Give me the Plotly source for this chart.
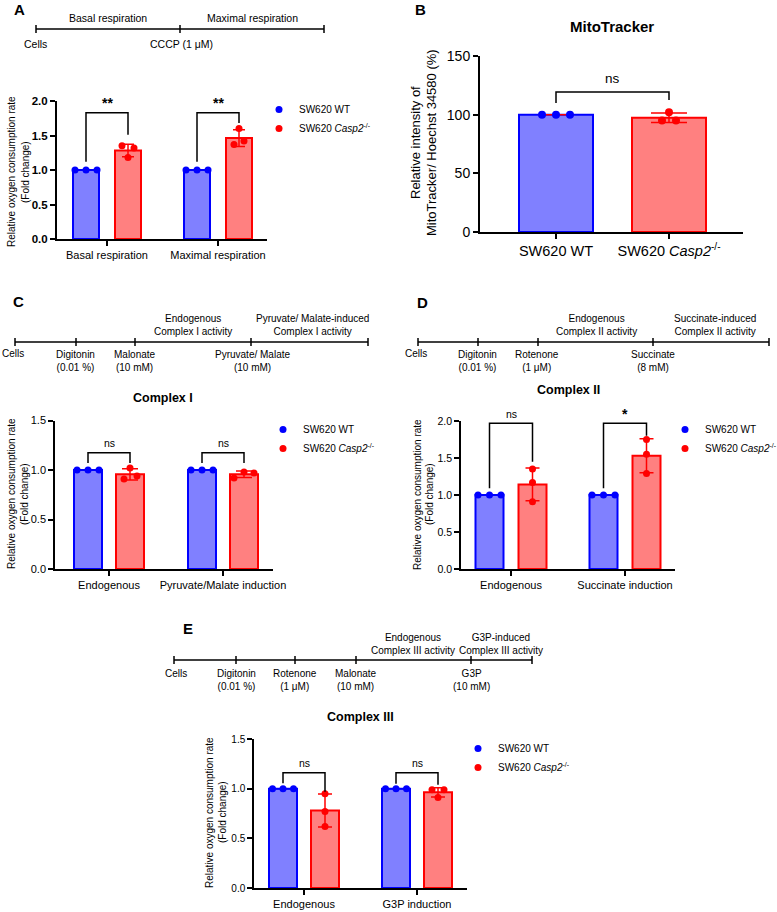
import numpy as np
import plotly.graph_objects as go

# ======================= DATA =======================
WT_NAME = "SW620 WT"
KO_NAME = "SW620 <i>Casp2</i><sup>-/-</sup>"

# Panel A  (fold change)
cats_A = ["Basal respiration", "Maximal respiration"]
wt_A = [[1.00, 1.00, 1.00], [1.00, 1.00, 1.00]]
ko_A = [[1.35, 1.18, 1.32], [1.37, 1.60, 1.42]]
sig_A = ["**", "**"]
yticks_A = [0.0, 0.5, 1.0, 1.5, 2.0]

# Panel B  (%)
cats_B = ["SW620 WT", "SW620 <i>Casp2</i><sup>-/-</sup>"]
vals_B = [[100, 100, 100], [95, 102, 95]]
sig_B = ["ns"]
yticks_B = [0, 50, 100, 150]

# Panel C
cats_C = ["Endogenous", "Pyruvate/Malate induction"]
wt_C = [[1.00, 1.00, 1.00], [1.00, 1.00, 1.00]]
ko_C = [[0.91, 1.02, 0.94], [0.92, 0.98, 0.97]]
sig_C = ["ns", "ns"]
yticks_C = [0.0, 0.5, 1.0, 1.5]

# Panel D
cats_D = ["Endogenous", "Succinate induction"]
wt_D = [[1.00, 1.00, 1.00], [1.00, 1.00, 1.00]]
ko_D = [[1.35, 1.17, 0.91], [1.75, 1.55, 1.29]]
sig_D = ["ns", "*"]
yticks_D = [0.0, 0.5, 1.0, 1.5, 2.0]

# Panel E
cats_E = ["Endogenous", "G3P induction"]
wt_E = [[1.00, 1.00, 1.00], [1.00, 1.00, 1.00]]
ko_E = [[0.95, 0.77, 0.62], [0.99, 0.91, 0.99]]
sig_E = ["ns", "ns"]
yticks_E = [0.0, 0.5, 1.0, 1.5]

# Timeline texts
tl_A_above = ["Basal respiration", "Maximal respiration"]
tl_A_below = ["Cells", "CCCP (1 μM)"]
tl_C_above = ["Endogenous<br>Complex I activity", "Pyruvate/ Malate-induced<br>Complex I activity"]
tl_C_below = ["Cells", "Digitonin<br>(0.01 %)", "Malonate<br>(10 mM)", "Pyruvate/ Malate<br>(10 mM)"]
tl_D_above = ["Endogenous<br>Complex II activity", "Succinate-induced<br>Complex II activity"]
tl_D_below = ["Cells", "Digitonin<br>(0.01 %)", "Rotenone<br>(1 μM)", "Succinate<br>(8 mM)"]
tl_E_above = ["Endogenous<br>Complex III activity", "G3P-induced<br>Complex III activity"]
tl_E_below = ["Cells", "Digitonin<br>(0.01 %)", "Rotenone<br>(1 μM)", "Malonate<br>(10 mM)", "G3P<br>(10 mM)"]

titles = {"B": "MitoTracker", "C": "Complex I", "D": "Complex II", "E": "Complex III"}
ytitle_ocr = ["Relative oxygen consumption rate", "(Fold change)"]
ytitle_B = ["Relative intensity of", "MitoTracker/ Hoechst 34580 (%)"]

# ======================= STYLE / LAYOUT =======================
W, H = 777, 912
FONT = "Liberation Sans, Arial, Helvetica, sans-serif"
BLUE, RED = "#0000FF", "#FF0000"
BLUE_FILL, RED_FILL = "#8080FF", "#FF8080"


def px(x):
    return x / W


def py(y):
    return 1 - y / H


fig = go.Figure()
annotations = []
shapes = []
layout_axes = {}


def ax_names(i):
    return ("x" if i == 1 else f"x{i}"), ("y" if i == 1 else f"y{i}")


def add_axes(i, g, cats, yticks, tickfont_y, tickfont_x, lw):
    xa, ya = ax_names(i)
    s = g["c"][1] - g["c"][0]
    x_rng = [(g["x0"] - g["c"][0]) / s, 1 + (g["x1"] - g["c"][1]) / s]
    common = dict(showline=True, linecolor="black", linewidth=lw, ticks="outside",
                  ticklen=5, tickwidth=lw, tickcolor="black", showgrid=False,
                  zeroline=False, fixedrange=True, automargin=False)
    layout_axes["xaxis" if i == 1 else f"xaxis{i}"] = dict(
        domain=[px(g["x0"]), px(g["x1"])], range=x_rng, anchor=ya,
        tickvals=[0, 1], ticktext=cats, tickfont=tickfont_x, **common)
    layout_axes["yaxis" if i == 1 else f"yaxis{i}"] = dict(
        domain=[py(g["ybot"]), py(g["ytop"])], range=[0, g["ymax"]], anchor=xa,
        tickvals=yticks, tickformat=g["fmt"], tickfont=tickfont_y, **common)
    return xa, ya, s


def bracket(xa, ya, ymax, xl, xr, top, yl, yr, yt, sig, size):
    shapes.append(dict(type="path", xref=xa, yref=ya,
                       path=f"M {xl},{yl} L {xl},{top} L {xr},{top} L {xr},{yr}",
                       line=dict(color="black", width=1.5)))
    bold = sig.startswith("*")
    annotations.append(dict(x=(xl + xr) / 2, y=yt / ymax, xref=xa, yref=f"{ya} domain",
                            showarrow=False, text=f"<b>{sig}</b>" if bold else sig,
                            font=dict(size=14 if bold else size),
                            xanchor="center", yanchor="middle"))


def grouped_panel(i, g, cats, wt, ko, yticks, legend_name, tickfont_y, lw):
    xa, ya, s = add_axes(i, g, cats, yticks, tickfont_y, dict(size=11), lw)
    for sign, vals, fill, edge, name, jits in [
            (-1, wt, BLUE_FILL, BLUE, WT_NAME, g["jit_wt"]),
            (1, ko, RED_FILL, RED, KO_NAME, g["jit_ko"])]:
        means = [float(np.mean(v)) for v in vals]
        sds = [float(np.std(v, ddof=1)) for v in vals]
        fig.add_trace(go.Bar(
            x=[0, 1], y=means, xaxis=xa, yaxis=ya,
            width=g["bw"] / s, offset=sign * g["off"] / s - g["bw"] / (2 * s),
            marker=dict(color=fill, line=dict(color=edge, width=2)),
            error_y=dict(type="data", array=sds, visible=True, color=edge,
                         thickness=1.5, width=g["cap"]),
            showlegend=False, hoverinfo="skip"))
        xs, ys = [], []
        for c in range(2):
            for k, v in enumerate(vals[c]):
                xs.append(c + sign * g["off"] / s + jits[c][k] / s)
                ys.append(v)
        fig.add_trace(go.Scatter(
            x=xs, y=ys, xaxis=xa, yaxis=ya, mode="markers", name=name,
            marker=dict(color=edge, size=7), legend=legend_name,
            showlegend=True, cliponaxis=False))
    for c in range(2):
        top, yl, yr, yt = g["br"][c]
        bracket(xa, ya, g["ymax"], c - g["off"] / s, c + g["off"] / s, top, yl, yr, yt,
                g["sig"][c], 10.5)


def ann(x, y, text, size, **kw):
    d = dict(x=px(x), y=py(y), xref="paper", yref="paper", text=text, showarrow=False,
             font=dict(size=size, color="black", family=FONT), xanchor="center",
             yanchor="middle")
    d.update(kw)
    annotations.append(d)


def timeline(x_start, x_end, ticks, y, above, above_pos, below, below_pos, size=10):
    shapes.append(dict(type="line", xref="paper", yref="paper", x0=px(x_start), x1=px(x_end),
                       y0=py(y), y1=py(y), line=dict(color="black", width=1.5)))
    for t in ticks:
        shapes.append(dict(type="line", xref="paper", yref="paper", x0=px(t), x1=px(t),
                           y0=py(y - 4), y1=py(y + 4), line=dict(color="black", width=1.5)))
    for txt, (xc, yc) in zip(above, above_pos):
        ann(xc, yc, txt, size)
    for txt, (xc, yc) in zip(below, below_pos):
        ann(xc, yc, txt, size)


def ytitle(lines, xs, yc, size):
    for t, x in zip(lines, xs):
        ann(x, yc, t, size, textangle=-90)


# ---------------- Panel A ----------------
gA = dict(x0=57, x1=267, c=(107, 218), ybot=239, ytop=101, ymax=2.0, fmt=".1f",
          bw=26, off=21, cap=6, jit_wt=[[-11, 0, 11]] * 2, jit_ko=[[-6, 0, 6], [-5, 0, 5]],
          br=[(1.83, 1.12, 1.51, 1.97), (1.83, 1.12, 1.68, 1.97)], sig=sig_A)
grouped_panel(1, gA, cats_A, wt_A, ko_A, yticks_A, "legend",
              dict(size=11.5, weight="bold"), 2)
ann(19, 10, "<b>A</b>", 15)
timeline(36, 324, [36, 180, 324], 29, tl_A_above, [(108, 18), (252, 18)],
         tl_A_below, [(35, 44), (181, 44)], size=10.5)
ytitle(ytitle_ocr, [11, 25], 172, 10)

# ---------------- Panel B ----------------
gB = dict(x0=480, x1=743, c=(556, 669), ybot=232, ytop=56, ymax=150, fmt="d")
xaB, yaB, sB = add_axes(2, gB, cats_B, yticks_B, dict(size=14), dict(size=14.5), 2)
meansB = [float(np.mean(v)) for v in vals_B]
sdsB = [float(np.std(v, ddof=1)) for v in vals_B]
fig.add_trace(go.Bar(x=[0, 1], y=meansB, xaxis=xaB, yaxis=yaB, width=74 / sB,
                     marker=dict(color=[BLUE_FILL, RED_FILL], line=dict(color=[BLUE, RED], width=2)),
                     error_y=dict(type="data", array=sdsB, visible=True, color=RED,
                                  thickness=1.5, width=18),
                     showlegend=False, hoverinfo="skip"))
jitB = [[-14, 0, 14], [-7, 0, 7]]
for c, (vals, col) in enumerate(zip(vals_B, [BLUE, RED])):
    fig.add_trace(go.Scatter(x=[c + j / sB for j in jitB[c]], y=vals, xaxis=xaB, yaxis=yaB,
                             mode="markers", marker=dict(color=col, size=8),
                             showlegend=False, cliponaxis=False))
bracket(xaB, yaB, 150, 0, 1, 119.3, 110, 112.5, 130.5, sig_B[0], 13.5)
ann(420, 10, "<b>B</b>", 15)
ann(612, 26, f"<b>{titles['B']}</b>", 15)
ytitle(ytitle_B, [415, 431], 143, 13)

# ---------------- Panel C ----------------
gC = dict(x0=55, x1=273, c=(109, 223), ybot=569, ytop=420.5, ymax=1.5, fmt=".1f",
          bw=28, off=21, cap=8, jit_wt=[[-11, 0, 11]] * 2, jit_ko=[[-6, 0, 7], [-10, 0, 10]],
          br=[(1.175, 1.07, 1.07, 1.27), (1.175, 1.07, 1.07, 1.27)], sig=sig_C)
grouped_panel(3, gC, cats_C, wt_C, ko_C, yticks_C, "legend2", dict(size=11), 1.5)
ann(18, 301, "<b>C</b>", 15)
timeline(15, 368, [15, 76, 135, 251, 368], 342, tl_C_above, [(193, 325), (312, 325)],
         tl_C_below, [(13, 354), (75, 361), (135, 361), (252, 361)])
ann(163, 398, f"<b>{titles['C']}</b>", 12.5)
ytitle(ytitle_ocr, [12, 25], 494, 10)

# ---------------- Panel D ----------------
gD = dict(x0=461, x1=675, c=(511, 625), ybot=569, ytop=421, ymax=2.0, fmt=".1f",
          bw=28, off=21.5, cap=7, jit_wt=[[-11.5, 0, 11.5]] * 2, jit_ko=[[0, 0, 0], [0, 0, 0]],
          br=[(1.97, 1.09, 1.45, 2.09), (1.97, 1.09, 1.80, 2.09)], sig=sig_D)
grouped_panel(4, gD, cats_D, wt_D, ko_D, yticks_D, "legend3", dict(size=10.5), 1.5)
ann(422, 302, "<b>D</b>", 15)
timeline(418, 769, [418, 478, 538, 653, 769], 342, tl_D_above, [(596, 325), (715, 325)],
         tl_D_below, [(416, 354), (477, 361), (537, 361), (653, 361)])
ann(568, 390, f"<b>{titles['D']}</b>", 12.5)
ytitle(ytitle_ocr, [418, 430], 494, 10)

# ---------------- Panel E ----------------
gE = dict(x0=254, x1=467, c=(304, 417), ybot=888, ytop=739, ymax=1.5, fmt=".1f",
          bw=28, off=21, cap=7, jit_wt=[[-10.5, 0, 10.5]] * 2, jit_ko=[[0, 0, 0], [-6, 0, 6]],
          br=[(1.16, 1.055, 0.97, 1.26), (1.16, 1.05, 1.04, 1.26)], sig=sig_E)
grouped_panel(5, gE, cats_E, wt_E, ko_E, yticks_E, "legend4", dict(size=10), 1.5)
ann(188, 628, "<b>E</b>", 15)
timeline(174, 532, [174, 236, 295, 356, 471, 532], 660, tl_E_above, [(413, 644), (501, 644)],
         tl_E_below, [(176, 673), (236, 680), (295, 680), (356, 680), (471, 680)])
ann(360, 717, f"<b>{titles['E']}</b>", 12.5)
ytitle(ytitle_ocr, [209, 222], 812, 10)


# ---------------- Legends ----------------
def legend_at(dot_x, dot_y):
    return dict(x=px(dot_x - 20), y=py(dot_y - 14), xanchor="left", yanchor="top",
                font=dict(size=10, family=FONT, color="black"), bgcolor="rgba(0,0,0,0)",
                itemclick=False, itemdoubleclick=False, tracegroupgap=0, borderwidth=0)


fig.update_layout(
    width=W, height=H, margin=dict(l=0, r=0, t=0, b=0, pad=0, autoexpand=False),
    paper_bgcolor="white", plot_bgcolor="white",
    font=dict(family=FONT, color="black", size=11),
    barmode="overlay", showlegend=True,
    legend=legend_at(279, 109), legend2=legend_at(283, 429),
    legend3=legend_at(685, 429), legend4=legend_at(478, 748),
    annotations=annotations, shapes=shapes, **layout_axes)

fig.write_html("out.html")
